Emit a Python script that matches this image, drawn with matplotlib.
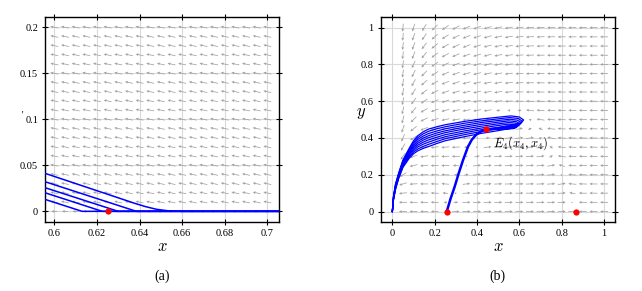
import numpy as np
import matplotlib
matplotlib.use('Agg')
import matplotlib.pyplot as plt

plt.rcParams['font.family'] = 'serif'
plt.rcParams['font.serif'] = ['Liberation Serif']
plt.rcParams['mathtext.fontset'] = 'cm'

# ---- panel (a) ----
a_xticks = [0.6, 0.62, 0.64, 0.66, 0.68, 0.7]
a_xticklabels = ['0.6', '0.62', '0.64', '0.66', '0.68', '0.7']
a_yticks = [0, 0.05, 0.1, 0.15, 0.2]
a_yticklabels = ['0', '0.05', '0.1', '0.15', '0.2']
a_field_x = [0.6, 0.605, 0.61, 0.615, 0.62, 0.625, 0.63, 0.635, 0.64, 0.645, 0.65,
             0.655, 0.66, 0.665, 0.67, 0.675, 0.68, 0.685, 0.69, 0.695, 0.7]
a_field_y = [0, 0.01, 0.02, 0.03, 0.04, 0.05, 0.06, 0.07, 0.08, 0.09, 0.1,
             0.11, 0.12, 0.13, 0.14, 0.15, 0.16, 0.17, 0.18, 0.19, 0.2]
a_field_angle = 168.0      # arrow direction (deg) above the x axis
a_axis_angle = 180.0       # arrow direction on the x axis
a_traj_x = [
    [0.5956, 0.613, 0.7055],
    [0.5956, 0.6225, 0.7055],
    [0.5956, 0.630, 0.7055],
    [0.5956, 0.6385, 0.7055],
    [0.5956, 0.638, 0.643, 0.648, 0.653, 0.66, 0.7055],
]
a_traj_y = [
    [0.0130, 0, 0],
    [0.0202, 0, 0],
    [0.0257, 0, 0],
    [0.0322, 0, 0],
    [0.0413, 0.0085, 0.005, 0.0022, 0.0007, 0, 0],
]
a_points_x = [0.625]
a_points_y = [0.0]

# ---- panel (b) ----
b_ticks = [0, 0.2, 0.4, 0.6, 0.8, 1.0]
b_ticklabels = ['0', '0.2', '0.4', '0.6', '0.8', '1']
b_field_x = [0.05, 0.1, 0.15, 0.2, 0.25, 0.3, 0.35, 0.4, 0.45, 0.5,
             0.55, 0.6, 0.65, 0.7, 0.75, 0.8, 0.85, 0.9, 0.95, 1.0]
b_field_y = [0, 0.05, 0.1, 0.15, 0.2, 0.25, 0.3, 0.35, 0.4, 0.45, 0.5,
             0.55, 0.6, 0.65, 0.7, 0.75, 0.8, 0.85, 0.9, 0.95, 1.0]
# prey with Allee effect, Leslie-Gower predator (E4 = (x4, x4))
allee = 0.257
capacity = 0.868
predation = 0.178
growth = 0.012

fan_x = [0, 0.005, 0.015, 0.03, 0.05, 0.08, 0.1, 0.12, 0.145, 0.17, 0.21,
         0.25, 0.34, 0.42, 0.5]
fan_y = [
    [0, .080, .150, .210, .280, .345, .385, .412, .433, .448, .461, .472, .490, .503, .513],
    [0, .0775, .146, .206, .275, .338, .376, .402, .422, .436, .450, .461, .480, .493, .504],
    [0, .075, .143, .203, .270, .331, .367, .392, .410, .424, .438, .450, .469, .484, .495],
    [0, .073, .139, .199, .265, .324, .358, .381, .399, .412, .427, .439, .459, .474, .486],
    [0, .070, .135, .195, .260, .318, .350, .371, .388, .401, .416, .429, .449, .464, .477],
    [0, .068, .131, .191, .255, .311, .341, .361, .377, .389, .404, .418, .438, .454, .468],
    [0, .065, .128, .188, .250, .304, .332, .351, .366, .377, .393, .407, .428, .445, .458],
    [0, .063, .124, .184, .245, .297, .323, .340, .354, .365, .381, .396, .418, .435, .449],
    [0, .060, .120, .180, .240, .290, .314, .330, .343, .353, .370, .385, .407, .425, .440],
]
loop_x = [
    [0.56, 0.60, 0.62, 0.61, 0.57, 0.50, 0.44],
    [0.555, 0.595, 0.614, 0.605, 0.565, 0.50, 0.44],
    [0.555, 0.59, 0.609, 0.60, 0.56, 0.50, 0.44],
    [0.55, 0.585, 0.603, 0.595, 0.555, 0.50, 0.44],
    [0.55, 0.58, 0.598, 0.59, 0.55, 0.50, 0.44],
    [0.545, 0.575, 0.592, 0.585, 0.545, 0.50, 0.44],
    [0.545, 0.57, 0.587, 0.58, 0.54, 0.49, 0.44],
    [0.54, 0.565, 0.581, 0.575, 0.535, 0.49, 0.44],
    [0.54, 0.56, 0.576, 0.57, 0.53, 0.49, 0.44],
]
loop_y = [
    [.520, .514, .498, .484, .470, .456, .447],
    [.511, .506, .491, .478, .466, .454, .447],
    [.502, .497, .484, .472, .462, .453, .447],
    [.493, .489, .477, .467, .459, .452, .447],
    [.484, .481, .471, .462, .456, .451, .447],
    [.475, .473, .465, .458, .454, .450, .447],
    [.466, .466, .460, .455, .452, .449, .447],
    [.457, .459, .456, .453, .451, .449, .447],
    [.448, .452, .452, .451, .450, .449, .447],
]
sep_x = [0.257, 0.275, 0.294, 0.314, 0.334, 0.357, 0.375, 0.395, 0.418, 0.44]
sep_y = [0.0, 0.07, 0.134, 0.21, 0.28, 0.352, 0.39, 0.417, 0.435, 0.447]
b_points_x = [0.257, 0.868, 0.44]
b_points_y = [0.0, 0.0, 0.447]

fig = plt.figure(figsize=(6.42, 2.91), dpi=100)
ax1 = fig.add_axes([0.0701, 0.2371, 0.3645, 0.7045])
ax2 = fig.add_axes([0.5930, 0.2371, 0.3654, 0.7045])

arrow_kw = dict(angles='uv', units='dots', scale_units='dots', scale=1,
                pivot='middle', color='#a0a0a0', width=0.75, headwidth=3.8,
                headlength=3.8, headaxislength=3.4, zorder=2)


def style(ax, xlim, ylim, xt, xtl, yt, ytl):
    ax.set_xlim(*xlim)
    ax.set_ylim(*ylim)
    ax.set_xticks(xt)
    ax.set_xticklabels(xtl)
    ax.set_yticks(yt)
    ax.set_yticklabels(ytl)
    ax.grid(True, color='#d9d9d9', lw=0.8)
    ax.set_axisbelow(True)
    ax.tick_params(direction='inout', length=4, width=0.8, top=True,
                   right=True, labelsize=7.5, pad=3)
    for s in ax.spines.values():
        s.set_linewidth(1.0)


# panel (a)
style(ax1, (0.5956, 0.7055), (-0.0116, 0.2112),
      a_xticks, a_xticklabels, a_yticks, a_yticklabels)
AX, AY = np.meshgrid(a_field_x, a_field_y)
ang = np.where(AY > 0, a_field_angle, a_axis_angle)
alen = np.where(AY > 0, 8.0, 6.0)
ax1.quiver(AX, AY, alen * np.cos(np.radians(ang)), alen * np.sin(np.radians(ang)),
           **arrow_kw)
for xs, ys in zip(a_traj_x, a_traj_y):
    ax1.plot(xs, ys, color='#0000ff', lw=1.1, zorder=3)
ax1.plot(a_points_x, a_points_y, 'o', color='red', ms=4.5, mec='none',
         zorder=4, clip_on=False)

# panel (b)
style(ax2, (-0.055, 1.053), (-0.057, 1.058),
      b_ticks, b_ticklabels, b_ticks, b_ticklabels)
BX, BY = np.meshgrid(b_field_x, b_field_y)
fx = BX * ((BX - allee) * (capacity - BX) - predation * BY)
fy = growth * BY * (1 - BY / BX)
sx = 234.6 / (1.053 + 0.055)
sy = 205.0 / (1.058 + 0.057)
px, py = fx * sx, fy * sy
norm = np.hypot(px, py)
norm[norm == 0] = 1
blen = 8.0 * np.clip(np.hypot(fx, fy) / 0.008, 0.12, 1.0)
ax2.quiver(BX, BY, blen * px / norm, blen * py / norm, **arrow_kw)
for ys, lx, ly in zip(fan_y, loop_x, loop_y):
    ax2.plot(fan_x + lx, ys + ly, color='#0000ff', lw=0.9, zorder=3)
ax2.plot(sep_x, sep_y, color='#0000ff', lw=1.8, zorder=3)
ax2.plot(b_points_x, b_points_y, 'o', color='red', ms=4.5, mec='none',
         zorder=4, clip_on=False)
ax2.text(0.475, 0.373, r'$E_4(x_4,x_4)$', fontsize=9, va='center',
         ha='left', zorder=5)

# labels
fig.text(162 / 642, 1 - 247 / 291, r'$x$', fontsize=12, ha='center', va='center')
fig.text(498 / 642, 1 - 247 / 291, r'$x$', fontsize=12, ha='center', va='center')
fig.text(361 / 642, 1 - 113 / 291, r'$y$', fontsize=12, ha='center', va='center')
fig.text(22 / 642, 1 - 115 / 291, "'", fontsize=7, ha='center', va='center',
         style='italic')
fig.text(162 / 642, 1 - 276 / 291, '(a)', fontsize=10, ha='center', va='center')
fig.text(497 / 642, 1 - 276 / 291, '(b)', fontsize=10, ha='center', va='center')

fig.savefig('out.png', dpi=100)
